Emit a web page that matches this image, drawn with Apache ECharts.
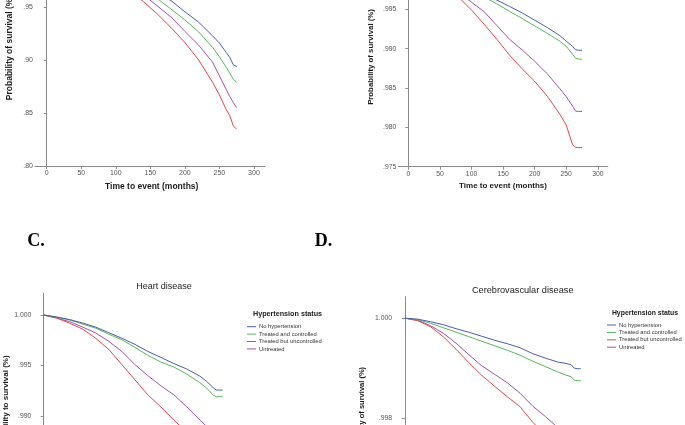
<!DOCTYPE html>
<html><head><meta charset="utf-8">
<script src="https://cdn.jsdelivr.net/npm/echarts@6/dist/echarts.min.js"></script>
<style>html,body{margin:0;padding:0;background:#fff}#c{width:685px;height:425px}</style>
</head><body><div id="c"></div>
<script>
// ---- data ----
const groups = ['No hypertension', 'Treated and controlled', 'Treated but uncontrolled', 'Untreated'];
const months = [0,20,40,60,80,100,120,140,160,180,200,220,240,250,260,265,270,275];
const xTicks = [0,50,100,150,200,250,300];

// Panel A
const aNoHT   = [1.000,0.9985,0.9965,0.993,0.989,0.983,0.9765,0.971,0.963,0.956,0.9455,0.9356,0.9228,0.916,0.907,0.9025,0.8955,0.894];
const aCtrl   = [1.000,0.9985,0.996,0.992,0.987,0.981,0.974,0.966,0.958,0.948,0.9378,0.9265,0.912,0.903,0.893,0.8875,0.882,0.879];
const aUnctrl = [1.000,0.9975,0.9935,0.988,0.981,0.974,0.9655,0.955,0.9435,0.9305,0.9165,0.900,0.879,0.867,0.853,0.8475,0.838,0.8346];
const aUntr   = [1.000,0.998,0.995,0.990,0.9845,0.978,0.970,0.9615,0.951,0.9405,0.927,0.914,0.898,0.885,0.872,0.8655,0.860,0.855];
const aYTicks = [0.80,0.85,0.90,0.95,1.00];

// Panel B
const bNoHT   = [1.000,0.9996,0.99915,0.9986,0.99805,0.9975,0.99685,0.99618,0.99538,0.99455,0.99362,0.99268,0.99165,0.99095,0.9903,0.98985,0.9898,0.98979];
const bCtrl   = [1.000,0.9996,0.9991,0.99845,0.99785,0.9972,0.99655,0.9957,0.99475,0.99385,0.9929,0.99195,0.99095,0.9903,0.9893,0.98875,0.98868,0.98865];
const bUnctrl = [1.000,0.9994,0.9986,0.9976,0.9965,0.9949,0.9931,0.9912,0.9892,0.98745,0.98585,0.98395,0.98165,0.9803,0.9778,0.97745,0.97743,0.97743];
const bUntr   = [1.000,0.9995,0.9989,0.9981,0.9971,0.9959,0.9947,0.99295,0.9912,0.98985,0.9884,0.9868,0.9849,0.9839,0.9827,0.98205,0.98203,0.98203];
const bYTicks = [0.975,0.980,0.985,0.990,0.995,1.000];

// Panel C: Heart disease
const cNoHT   = [1.000,0.9998,0.99955,0.9992,0.9988,0.99825,0.9977,0.9971,0.9964,0.9958,0.9952,0.99465,0.99395,0.99345,0.99285,0.99257,0.99257,0.99257];
const cCtrl   = [1.000,0.9998,0.9995,0.9991,0.9987,0.9981,0.99755,0.9968,0.9960,0.99535,0.99485,0.99415,0.9933,0.9928,0.9921,0.99191,0.99191,0.99191];
const cUnctrl = [1.000,0.9997,0.99918,0.9986,0.9977,0.9966,0.9951,0.9936,0.9921,0.9909,0.9896,0.9884,0.9870,0.9864,0.9857,0.9853,0.9851,0.9851];
const cUntr   = [1.000,0.9997,0.99934,0.9988,0.99822,0.9974,0.9964,0.9951,0.9940,0.9930,0.9921,0.9909,0.9896,0.9890,0.9882,0.9879,0.9876,0.9876];
const cYTicks = [0.980,0.985,0.990,0.995,1.000];

// Panel D: Cerebrovascular disease
const dNoHT   = [1.000,0.99998,0.99993,0.99987,0.99979,0.99972,0.99964,0.99956,0.99949,0.99941,0.99929,0.9992,0.99912,0.9991,0.99907,0.999,0.99899,0.99899];
const dCtrl   = [1.000,0.99997,0.9999,0.99981,0.99972,0.99963,0.99954,0.99945,0.99936,0.99926,0.99914,0.99903,0.99892,0.99887,0.99883,0.99876,0.99875,0.99875];
const dUnctrl = [1.000,0.99995,0.99983,0.99963,0.99938,0.99911,0.99886,0.99864,0.99843,0.99823,0.99792,0.99765,0.9974,0.9973,0.9972,0.99712,0.9971,0.9971];
const dUntr   = [1.000,0.99996,0.99985,0.9997,0.9995,0.99927,0.99905,0.99888,0.99871,0.9985,0.99824,0.99803,0.9978,0.9977,0.9976,0.99752,0.9975,0.9975];
const dYTicks = [0.996,0.998,1.000];

const colors = ['#4a5caa', '#59b65e', '#e8464a', '#a24fb2'];

// ---- chart ----
const chart = echarts.init(document.getElementById('c'), null, {renderer: 'canvas'});
const axisCol = '#8a8a8a';
const grids = [
  {left: 35, top: -56.6, width: 230, height: 222.6},
  {left: 398.3, top: -37.9, width: 209.6, height: 204.6},
  {left: 33.3, top: 293.3, width: 216, height: 223.7},
  {left: 394, top: 296.7, width: 213, height: 221.5}
].map(g => Object.assign({outerBoundsMode: 'none', containLabel: false}, g));
const xRanges = [[-17,316],[-16,316],[-16,316],[-17,316]];
const yRanges = [[0.80,1.01],[0.975,1.001],[0.980,1.00215],[0.996,1.00043]];
const yTicks = [aYTicks,bYTicks,cYTicks,dYTicks];
const yDec = [2,3,3,3];
const lblSize = [7,6.8,6.8,6.8];

const xAxis = grids.map((g,i)=>({
  type:'value', gridIndex:i, min:xRanges[i][0], max:xRanges[i][1],
  axisLine:{show:true, lineStyle:{color:axisCol, width:1}},
  axisTick:{show:true, length:3, inside:false, customValues:xTicks, lineStyle:{color:axisCol}},
  axisLabel:{customValues:xTicks, fontSize:lblSize[i], color:'#555', margin:4, fontFamily:'Liberation Sans'},
  splitLine:{show:false}
}));
const yAxis = grids.map((g,i)=>({
  type:'value', gridIndex:i, min:yRanges[i][0], max:yRanges[i][1],
  axisLine:{show:true, lineStyle:{color:axisCol, width:1}},
  axisTick:{show:true, length:3, inside:false, customValues:yTicks[i], lineStyle:{color:axisCol}},
  axisLabel:{customValues:yTicks[i], fontSize:lblSize[i], color:'#555', margin:2, fontFamily:'Liberation Sans',
    formatter:v=>v.toFixed(yDec[i]).replace(/^0/,'')},
  splitLine:{show:false}
}));

const panels = [
  [aNoHT,aCtrl,aUnctrl,aUntr],
  [bNoHT,bCtrl,bUnctrl,bUntr],
  [cNoHT,cCtrl,cUnctrl,cUntr],
  [dNoHT,dCtrl,dUnctrl,dUntr]
];
const series = [];
panels.forEach((p,pi)=>{
  p.forEach((vals,si)=>{
    series.push({
      type:'line', name:groups[si], xAxisIndex:pi, yAxisIndex:pi,
      data: months.map((m,k)=>[m, vals[k]]),
      showSymbol:false, symbol:'none', color:colors[si],
      lineStyle:{width:1, color:colors[si]}, z: 10-si
    });
  });
});

const legendBase = {
  orient:'vertical', icon:'rect', itemWidth:9, itemHeight:1, itemGap:0, padding:0,
  textStyle:{fontSize:5.8, color:'#333', lineHeight:7.4, fontFamily:'Liberation Sans', padding:[0,0,0,-2]},
  data: groups, selectedMode:false
};
const legends = [
  Object.assign({}, legendBase, {left:247, top:323}),
  Object.assign({}, legendBase, {left:607, top:321.3})
];

const bold = 'bold';
const txt = (x,y,text,size,opts={}) => ({
  type:'text', x:x, y:y, rotation: opts.rot||0,
  style:{text:text, fontSize:size, fontWeight:opts.weight||'normal', fontFamily:opts.family||'Liberation Sans',
    fill:opts.fill||'#1a1a1a', align:'center', verticalAlign:'middle'}
});

chart.setOption({
  animation:false,
  backgroundColor:'#fff',
  grid: grids,
  xAxis: xAxis,
  yAxis: yAxis,
  legend: legends,
  series: series,
  graphic: [
    txt(151.7,187,'Time to event (months)',8.5,{weight:bold}),
    txt(503,186,'Time to event (months)',8,{weight:bold}),
    txt(9.3,48,'Probability of survival (%)',8.5,{weight:bold,rot:Math.PI/2}),
    txt(370.7,57,'Probability of survival (%)',7.8,{weight:bold,rot:Math.PI/2}),
    txt(6,404.5,'Probability to survival (%)',8,{weight:bold,rot:Math.PI/2}),
    txt(362,413,'Probability of survival (%)',7.5,{weight:bold,rot:Math.PI/2}),
    txt(164,286.7,'Heart disease',9),
    txt(522.7,290,'Cerebrovascular disease',9.2),
    txt(287.5,314.3,'Hypertension status',7.2,{weight:bold}),
    txt(645,313.3,'Hypertension status',6.9,{weight:bold}),
    txt(36,241.7,'C.',18,{weight:bold,family:'Liberation Serif',fill:'#000'}),
    txt(323.5,241.7,'D.',18,{weight:bold,family:'Liberation Serif',fill:'#000'})
  ]
});
</script></body></html>
